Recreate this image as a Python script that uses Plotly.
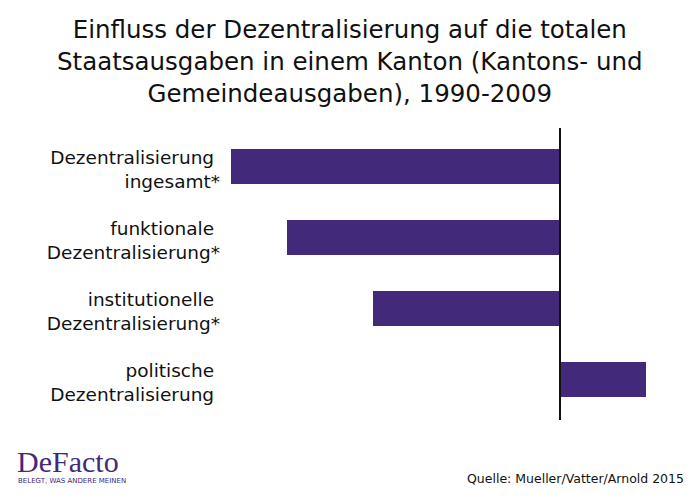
import plotly.graph_objects as go

categories = [
    "Dezentralisierung <br>ingesamt*",
    "funktionale <br>Dezentralisierung*",
    "institutionelle <br>Dezentralisierung*",
    "politische <br>Dezentralisierung ",
]
values = [-3.29, -2.73, -1.87, 0.86]

title_text = ("Einfluss der Dezentralisierung auf die totalen<br>"
              "Staatsausgaben in einem Kanton (Kantons- und<br>"
              "Gemeindeausgaben), 1990-2009")
source_text = "Quelle: Mueller/Vatter/Arnold 2015"

purple = "#42297A"
font = "DejaVu Sans"
W, H = 700, 497
L, R, T, B = 225, 40, 131, 82
PW, PH = W - L - R, H - T - B


def px_x(px):
    return (px - L) / PW


def px_y(py):
    return 1 - (py - T) / PH


fig = go.Figure(go.Bar(
    x=values, y=categories, orientation="h",
    marker=dict(color=purple, line=dict(width=0)),
    hoverinfo="skip",
))

fig.update_layout(
    width=W, height=H,
    paper_bgcolor="white", plot_bgcolor="white",
    margin=dict(l=L, r=R, t=T, b=B),
    bargap=0.507,
    showlegend=False,
    font=dict(family=font, color="#111111"),
)
fig.update_xaxes(
    range=[-3.35, 1.0], showgrid=False, showticklabels=False,
    zeroline=False, showline=False, ticks="",
)
fig.update_yaxes(
    autorange="reversed", showgrid=False, showline=False,
    ticks="", automargin=False,
    ticklabelshift=-3, ticklabelstandoff=4,
    tickfont=dict(size=18.5, family=font, color="#111111"),
)

# zero reference line
fig.add_shape(type="line", xref="x", yref="paper", x0=0, x1=0,
              y0=px_y(420), y1=px_y(128), line=dict(color="#111111", width=2))

fig.add_annotation(
    text=title_text, xref="paper", yref="paper", x=px_x(350), y=px_y(13),
    xanchor="center", yanchor="top", showarrow=False, align="center",
    font=dict(size=24.5, family=font, color="#111111"),
)
fig.add_annotation(
    text="DeFacto", xref="paper", yref="paper", x=px_x(15), y=px_y(462),
    xanchor="left", yanchor="middle", showarrow=False,
    font=dict(size=30, family="Liberation Serif", color=purple),
)
fig.add_annotation(
    text="BELEGT, WAS ANDERE MEINEN", xref="paper", yref="paper", x=px_x(16), y=px_y(481),
    xanchor="left", yanchor="middle", showarrow=False,
    font=dict(size=7, family=font, color=purple),
)
fig.add_annotation(
    text=source_text, xref="paper", yref="paper", x=px_x(686), y=px_y(478),
    xanchor="right", yanchor="middle", showarrow=False,
    font=dict(size=12.5, family=font, color="#111111"),
)

fig.write_html("out.html", config={"displayModeBar": False},
               post_script="document.body.style.margin='0';")
